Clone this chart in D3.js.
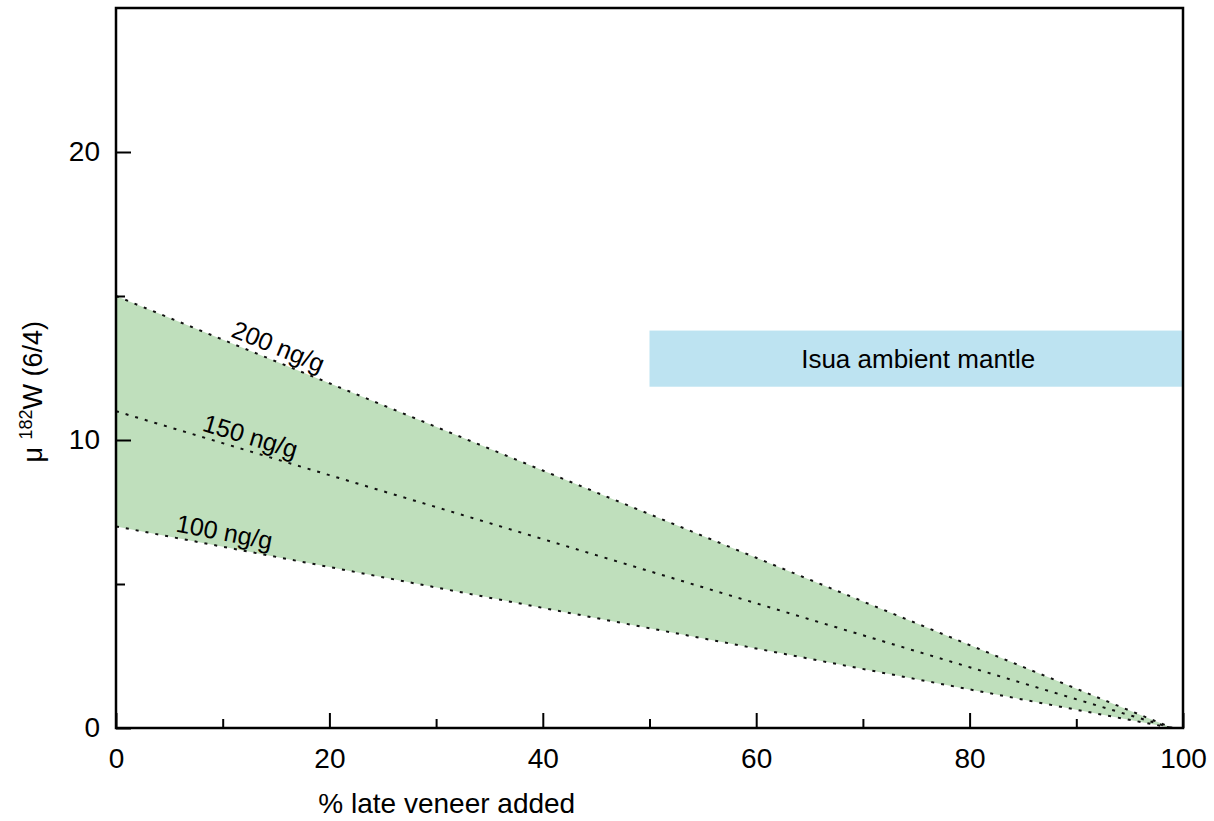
<!DOCTYPE html>
<html>
<head>
<meta charset="utf-8">
<script src="https://cdn.jsdelivr.net/npm/d3@7"></script>
<style>
  body { margin: 0; background: #fff; }
  text { font-family: "Liberation Sans", Arial, sans-serif; fill: #000; }
</style>
</head>
<body>
<script>
// % late veneer added
var lvPercent = [0, 20, 40, 60, 80, 99];
// mu 182W for each late veneer W concentration
var mu200 = [15, 11.97, 8.94, 5.91, 2.88, 0];
var mu150 = [11, 8.78, 6.56, 4.33, 2.11, 0];
var mu100 = [7, 5.59, 4.17, 2.76, 1.34, 0];
var lineNames = ["200 ng/g", "150 ng/g", "100 ng/g"];
// Isua ambient mantle band
var isuaX = [50, 100];
var isuaY = [11.85, 13.8];
var xTicks = [0, 20, 40, 60, 80, 100];
var yTicks = [0, 10, 20];

var width = 1214, height = 821;
var margin = {top: 8, right: 31, bottom: 93, left: 116};
var w = width - margin.left - margin.right;
var h = height - margin.top - margin.bottom;

var svg = d3.select("body").append("svg")
    .attr("width", width)
    .attr("height", height);

var g = svg.append("g")
    .attr("transform", "translate(" + margin.left + "," + margin.top + ")");

var x = d3.scaleLinear().domain([0, 100]).range([0, w]);
var y = d3.scaleLinear().domain([0, 25]).range([h, 0]);

// green envelope between 100 and 200 ng/g
var area = d3.area()
    .x(function (d, i) { return x(lvPercent[i]); })
    .y0(function (d, i) { return y(mu100[i]); })
    .y1(function (d, i) { return y(mu200[i]); });

g.append("path")
    .datum(lvPercent)
    .attr("d", area)
    .attr("fill", "#bfdfbc");

// blue band
g.append("rect")
    .attr("x", x(isuaX[0]))
    .attr("width", x(isuaX[1]) - x(isuaX[0]))
    .attr("y", y(isuaY[1]))
    .attr("height", y(isuaY[0]) - y(isuaY[1]))
    .attr("fill", "#bde3f1");

g.append("text")
    .attr("x", (x(isuaX[0]) + x(isuaX[1])) / 2 + 2)
    .attr("y", (y(isuaY[0]) + y(isuaY[1])) / 2)
    .attr("dy", "0.35em")
    .attr("text-anchor", "middle")
    .attr("font-size", 26)
    .text("Isua ambient mantle");

var line = d3.line()
    .x(function (d) { return x(d[0]); })
    .y(function (d) { return y(d[1]); });

var series = [mu200, mu150, mu100];
series.forEach(function (s) {
    g.append("path")
        .datum(lvPercent.map(function (v, i) { return [v, s[i]]; }))
        .attr("d", line)
        .attr("fill", "none")
        .attr("stroke", "#111")
        .attr("stroke-width", 2)
        .attr("stroke-dasharray", "3,7");
});

// labels along the lines (x position in % of the label centre)
var labelAt = [14.7, 12.2, 9.9];
series.forEach(function (s, k) {
    var xv = labelAt[k];
    var yv = s[0] + (s[1] - s[0]) * xv / (lvPercent[1] - lvPercent[0]);
    var ang = Math.atan2(y(s[1]) - y(s[0]), x(lvPercent[1]) - x(lvPercent[0])) * 180 / Math.PI;
    g.append("text")
        .attr("transform", "translate(" + x(xv) + "," + y(yv) + ") rotate(" + ang + ")")
        .attr("y", -6)
        .attr("text-anchor", "middle")
        .attr("font-size", 25)
        .text(lineNames[k]);
});

// axes with inward ticks
var xAxis = g.append("g").attr("transform", "translate(0," + h + ")")
    .call(d3.axisBottom(x).tickValues(xTicks).tickSize(-15).tickFormat(d3.format("d")));
xAxis.select(".domain").remove();
xAxis.selectAll("line").attr("stroke-width", 2);
xAxis.selectAll("text").attr("font-size", 28).attr("font-family", "Liberation Sans, Arial, sans-serif")
    .attr("dy", null).attr("y", 40);

var xMinor = g.append("g").attr("transform", "translate(0," + h + ")")
    .call(d3.axisBottom(x).tickValues([10, 30, 50, 70, 90]).tickSize(-9).tickFormat(""));
xMinor.select(".domain").remove();
xMinor.selectAll("line").attr("stroke-width", 2);

var yAxis = g.append("g")
    .call(d3.axisLeft(y).tickValues(yTicks).tickSize(-15).tickFormat(d3.format("d")));
yAxis.select(".domain").remove();
yAxis.selectAll("line").attr("stroke-width", 2);
yAxis.selectAll("text").attr("font-size", 28).attr("font-family", "Liberation Sans, Arial, sans-serif").attr("x", -16);

var yMinor = g.append("g")
    .call(d3.axisLeft(y).tickValues([5, 15]).tickSize(-9).tickFormat(""));
yMinor.select(".domain").remove();
yMinor.selectAll("line").attr("stroke-width", 2);

// frame
g.append("rect")
    .attr("width", w)
    .attr("height", h)
    .attr("fill", "none")
    .attr("stroke", "#000")
    .attr("stroke-width", 2.5);

// axis titles
svg.append("text")
    .attr("x", margin.left + w * 0.31)
    .attr("y", 813)
    .attr("text-anchor", "middle")
    .attr("font-size", 28)
    .text("% late veneer added");

var yt = svg.append("text")
    .attr("transform", "translate(42," + (margin.top + h * 0.533) + ") rotate(-90)")
    .attr("text-anchor", "middle")
    .attr("font-size", 27);
yt.append("tspan").text("μ ");
yt.append("tspan").attr("font-size", 18).attr("dy", -10).text("182");
yt.append("tspan").attr("dy", 10).text("W (6/4)");
</script>
</body>
</html>
